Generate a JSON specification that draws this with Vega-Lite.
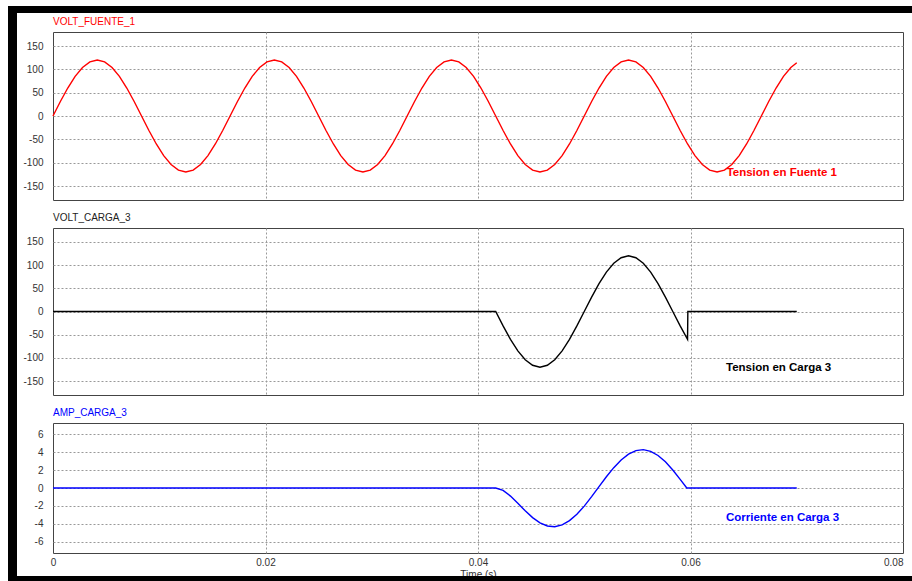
{
  "$schema": "https://vega.github.io/schema/vega-lite/v6.json",
  "padding": {"left": 8, "top": 6, "right": 0, "bottom": 0},
  "background": "white",
  "columns": 3,
  "spacing": 0,
  "bounds": "flush",
  "align": "each",
  "datasets": {
    "v1": [
      {"t": 0, "v": 0}, {"t": 0.000694, "v": 31.06}, {"t": 0.001389, "v": 60}, {"t": 0.002083, "v": 84.85}, {"t": 0.002778, "v": 103.92}, {"t": 0.003472, "v": 115.91}, {"t": 0.004167, "v": 120}, {"t": 0.004861, "v": 115.91}, {"t": 0.005556, "v": 103.92}, {"t": 0.00625, "v": 84.85}, {"t": 0.006944, "v": 60}, {"t": 0.007639, "v": 31.06},
      {"t": 0.008333, "v": 0}, {"t": 0.009028, "v": -31.06}, {"t": 0.009722, "v": -60}, {"t": 0.010417, "v": -84.85}, {"t": 0.011111, "v": -103.92}, {"t": 0.011806, "v": -115.91}, {"t": 0.0125, "v": -120}, {"t": 0.013194, "v": -115.91}, {"t": 0.013889, "v": -103.92}, {"t": 0.014583, "v": -84.85}, {"t": 0.015278, "v": -60}, {"t": 0.015972, "v": -31.06},
      {"t": 0.016667, "v": 0}, {"t": 0.017361, "v": 31.06}, {"t": 0.018056, "v": 60}, {"t": 0.01875, "v": 84.85}, {"t": 0.019444, "v": 103.92}, {"t": 0.020139, "v": 115.91}, {"t": 0.020833, "v": 120}, {"t": 0.021528, "v": 115.91}, {"t": 0.022222, "v": 103.92}, {"t": 0.022917, "v": 84.85}, {"t": 0.023611, "v": 60}, {"t": 0.024306, "v": 31.06},
      {"t": 0.025, "v": 0}, {"t": 0.025694, "v": -31.06}, {"t": 0.026389, "v": -60}, {"t": 0.027083, "v": -84.85}, {"t": 0.027778, "v": -103.92}, {"t": 0.028472, "v": -115.91}, {"t": 0.029167, "v": -120}, {"t": 0.029861, "v": -115.91}, {"t": 0.030556, "v": -103.92}, {"t": 0.03125, "v": -84.85}, {"t": 0.031944, "v": -60}, {"t": 0.032639, "v": -31.06},
      {"t": 0.033333, "v": 0}, {"t": 0.034028, "v": 31.06}, {"t": 0.034722, "v": 60}, {"t": 0.035417, "v": 84.85}, {"t": 0.036111, "v": 103.92}, {"t": 0.036806, "v": 115.91}, {"t": 0.0375, "v": 120}, {"t": 0.038194, "v": 115.91}, {"t": 0.038889, "v": 103.92}, {"t": 0.039583, "v": 84.85}, {"t": 0.040278, "v": 60}, {"t": 0.040972, "v": 31.06},
      {"t": 0.041667, "v": 0}, {"t": 0.042361, "v": -31.06}, {"t": 0.043056, "v": -60}, {"t": 0.04375, "v": -84.85}, {"t": 0.044444, "v": -103.92}, {"t": 0.045139, "v": -115.91}, {"t": 0.045833, "v": -120}, {"t": 0.046528, "v": -115.91}, {"t": 0.047222, "v": -103.92}, {"t": 0.047917, "v": -84.85}, {"t": 0.048611, "v": -60}, {"t": 0.049306, "v": -31.06},
      {"t": 0.05, "v": 0}, {"t": 0.050694, "v": 31.06}, {"t": 0.051389, "v": 60}, {"t": 0.052083, "v": 84.85}, {"t": 0.052778, "v": 103.92}, {"t": 0.053472, "v": 115.91}, {"t": 0.054167, "v": 120}, {"t": 0.054861, "v": 115.91}, {"t": 0.055556, "v": 103.92}, {"t": 0.05625, "v": 84.85}, {"t": 0.056944, "v": 60}, {"t": 0.057639, "v": 31.06},
      {"t": 0.058333, "v": 0}, {"t": 0.059028, "v": -31.06}, {"t": 0.059722, "v": -60}, {"t": 0.060417, "v": -84.85}, {"t": 0.061111, "v": -103.92}, {"t": 0.061806, "v": -115.91}, {"t": 0.0625, "v": -120}, {"t": 0.063194, "v": -115.91}, {"t": 0.063889, "v": -103.92}, {"t": 0.064583, "v": -84.85}, {"t": 0.065278, "v": -60}, {"t": 0.065972, "v": -31.06},
      {"t": 0.066667, "v": 0}, {"t": 0.067361, "v": 31.06}, {"t": 0.068056, "v": 60}, {"t": 0.06875, "v": 84.85}, {"t": 0.069444, "v": 103.92}, {"t": 0.07, "v": 114.13}
    ],
    "v2": [
      {"t": 0, "v": 0}, {"t": 0.041667, "v": 0}, {"t": 0.042361, "v": -31.06}, {"t": 0.043056, "v": -60}, {"t": 0.04375, "v": -84.85}, {"t": 0.044444, "v": -103.92}, {"t": 0.045139, "v": -115.91}, {"t": 0.045833, "v": -120}, {"t": 0.046528, "v": -115.91}, {"t": 0.047222, "v": -103.92}, {"t": 0.047917, "v": -84.85}, {"t": 0.048611, "v": -60}, {"t": 0.049306, "v": -31.06},
      {"t": 0.05, "v": 0}, {"t": 0.050694, "v": 31.06}, {"t": 0.051389, "v": 60}, {"t": 0.052083, "v": 84.85}, {"t": 0.052778, "v": 103.92}, {"t": 0.053472, "v": 115.91}, {"t": 0.054167, "v": 120}, {"t": 0.054861, "v": 115.91}, {"t": 0.055556, "v": 103.92}, {"t": 0.05625, "v": 84.85}, {"t": 0.056944, "v": 60}, {"t": 0.057639, "v": 31.06},
      {"t": 0.058333, "v": 0}, {"t": 0.059028, "v": -31.06}, {"t": 0.059722, "v": -60}, {"t": 0.05975, "v": 0}, {"t": 0.07, "v": 0}
    ],
    "i3": [
      {"t": 0, "v": 0}, {"t": 0.041667, "v": 0}, {"t": 0.042361, "v": -0.27}, {"t": 0.043056, "v": -0.9}, {"t": 0.04375, "v": -1.71}, {"t": 0.044444, "v": -2.55}, {"t": 0.045139, "v": -3.3}, {"t": 0.045833, "v": -3.88}, {"t": 0.046528, "v": -4.24}, {"t": 0.047222, "v": -4.32}, {"t": 0.047917, "v": -4.12}, {"t": 0.048611, "v": -3.64}, {"t": 0.049306, "v": -2.93},
      {"t": 0.05, "v": -2.02}, {"t": 0.050694, "v": -0.97}, {"t": 0.051389, "v": 0.15}, {"t": 0.052083, "v": 1.25}, {"t": 0.052778, "v": 2.27}, {"t": 0.053472, "v": 3.13}, {"t": 0.054167, "v": 3.78}, {"t": 0.054861, "v": 4.17}, {"t": 0.055556, "v": 4.28}, {"t": 0.05625, "v": 4.09}, {"t": 0.056944, "v": 3.63}, {"t": 0.057639, "v": 2.92},
      {"t": 0.058333, "v": 2.01}, {"t": 0.059028, "v": 0.96}, {"t": 0.05965, "v": 0}, {"t": 0.07, "v": 0}
    ]
  },
  "concat": [
    {"width": 9, "height": 7, "data": {"values": []}, "mark": "point", "view": {"fill": "black", "stroke": null}},
    {"width": 36, "height": 7, "data": {"values": []}, "mark": "point", "view": {"fill": "black", "stroke": null}},
    {"width": 859, "height": 7, "data": {"values": []}, "mark": "point", "view": {"fill": "black", "stroke": null}},

    {"width": 9, "height": 19, "data": {"values": []}, "mark": "point", "view": {"fill": "black", "stroke": null}},
    {"width": 36, "height": 19, "data": {"values": []}, "mark": "point", "view": {"stroke": null}},
    {"width": 859, "height": 19, "data": {"values": []}, "mark": "point", "view": {"stroke": null}},

    {"width": 9, "height": 196, "data": {"values": []}, "mark": "point", "view": {"fill": "black", "stroke": null}},
    {"width": 36, "height": 196, "data": {"values": []}, "mark": "point", "view": {"stroke": null}},
    {
      "width": 850, "height": 168,
      "title": {"text": "VOLT_FUENTE_1", "color": "#ff0000"},
      "view": {"stroke": "#444"},
      "layer": [
        {
          "data": {"name": "v1"},
          "mark": {"type": "line", "color": "#ff0000", "strokeWidth": 1.4},
          "encoding": {
            "x": {"field": "t", "type": "quantitative", "scale": {"domain": [0, 0.08], "nice": false},
                  "axis": {"values": [0, 0.02, 0.04, 0.06, 0.08], "tickCount": 50, "labels": false, "title": null,
                           "gridOpacity": {"condition": {"test": "datum.value == 0 || datum.value == 0.08", "value": 0}, "value": 1}}},
            "y": {"field": "v", "type": "quantitative", "scale": {"domain": [-180, 180], "nice": false, "zero": false},
                  "axis": {"values": [-150, -100, -50, 0, 50, 100, 150], "tickCount": 50, "title": null, "labelOverlap": false, "labelExpr": "'' + datum.value"}}
          }
        },
        {
          "data": {"values": [{}]},
          "mark": {"type": "text", "text": "Tension en Fuente 1", "align": "left", "baseline": "middle", "fontWeight": "bold", "fontSize": 11.5, "color": "#ff0000"},
          "encoding": {"x": {"datum": 0.0634}, "y": {"datum": -123}}
        }
      ]
    },

    {"width": 9, "height": 195, "data": {"values": []}, "mark": "point", "view": {"fill": "black", "stroke": null}},
    {"width": 36, "height": 195, "data": {"values": []}, "mark": "point", "view": {"stroke": null}},
    {
      "width": 850, "height": 167,
      "title": {"text": "VOLT_CARGA_3", "color": "#222222"},
      "view": {"stroke": "#444"},
      "layer": [
        {
          "data": {"name": "v2"},
          "mark": {"type": "line", "color": "#000000", "strokeWidth": 1.4},
          "encoding": {
            "x": {"field": "t", "type": "quantitative", "scale": {"domain": [0, 0.08], "nice": false},
                  "axis": {"values": [0, 0.02, 0.04, 0.06, 0.08], "tickCount": 50, "labels": false, "title": null,
                           "gridOpacity": {"condition": {"test": "datum.value == 0 || datum.value == 0.08", "value": 0}, "value": 1}}},
            "y": {"field": "v", "type": "quantitative", "scale": {"domain": [-180, 180], "nice": false, "zero": false},
                  "axis": {"values": [-150, -100, -50, 0, 50, 100, 150], "tickCount": 50, "title": null, "labelOverlap": false, "labelExpr": "'' + datum.value"}}
          }
        },
        {
          "data": {"values": [{}]},
          "mark": {"type": "text", "text": "Tension en Carga 3", "align": "left", "baseline": "middle", "fontWeight": "bold", "fontSize": 11.5, "color": "#000000"},
          "encoding": {"x": {"datum": 0.06334}, "y": {"datum": -121}}
        }
      ]
    },

    {"width": 9, "height": 153, "data": {"values": []}, "mark": "point", "view": {"fill": "black", "stroke": null}},
    {"width": 36, "height": 153, "data": {"values": []}, "mark": "point", "view": {"stroke": null}},
    {
      "width": 850, "height": 130,
      "title": {"text": "AMP_CARGA_3", "color": "#0000ff"},
      "view": {"stroke": "#444"},
      "layer": [
        {
          "data": {"name": "i3"},
          "mark": {"type": "line", "color": "#0000ff", "strokeWidth": 1.4},
          "encoding": {
            "x": {"field": "t", "type": "quantitative", "scale": {"domain": [0, 0.08], "nice": false},
                  "axis": {"values": [0, 0.02, 0.04, 0.06, 0.08], "tickCount": 50, "title": "Time (s)", "format": "~g",
                           "labelPadding": 4, "titlePadding": 2, "labelOverlap": false,
                           "labelAlign": {"condition": {"test": "datum.value == 0.08", "value": "right"}, "value": "center"},
                           "gridOpacity": {"condition": {"test": "datum.value == 0 || datum.value == 0.08", "value": 0}, "value": 1}}},
            "y": {"field": "v", "type": "quantitative", "scale": {"domain": [-7.25, 7.25], "nice": false, "zero": false},
                  "axis": {"values": [-6, -4, -2, 0, 2, 4, 6], "tickCount": 50, "title": null, "labelOverlap": false, "labelExpr": "'' + datum.value"}}
          }
        },
        {
          "data": {"values": [{}]},
          "mark": {"type": "text", "text": "Corriente en Carga 3", "align": "left", "baseline": "middle", "fontWeight": "bold", "fontSize": 11.5, "color": "#0000ff"},
          "encoding": {"x": {"datum": 0.06334}, "y": {"datum": -3.35}}
        }
      ]
    },

    {"width": 9, "height": 5, "data": {"values": []}, "mark": "point", "view": {"fill": "black", "stroke": null}},
    {"width": 36, "height": 5, "data": {"values": []}, "mark": "point", "view": {"fill": "black", "stroke": null}},
    {"width": 859, "height": 5, "data": {"values": []}, "mark": "point", "view": {"fill": "black", "stroke": null}}
  ],
  "config": {
    "font": "Liberation Sans",
    "axis": {
      "grid": true, "gridColor": "#999999", "gridDash": [2, 2], "gridWidth": 1,
      "domain": false, "ticks": false, "tickSize": 0, "labelOverlap": false,
      "labelFont": "Liberation Sans", "labelFontSize": 10, "labelColor": "#333333", "labelPadding": 10,
      "titleFont": "Liberation Sans", "titleFontSize": 10, "titleFontWeight": "normal", "titleColor": "#333333"
    },
    "title": {"anchor": "start", "frame": "group", "fontSize": 10, "fontWeight": "normal", "offset": 5, "font": "Liberation Sans"}
  }
}
